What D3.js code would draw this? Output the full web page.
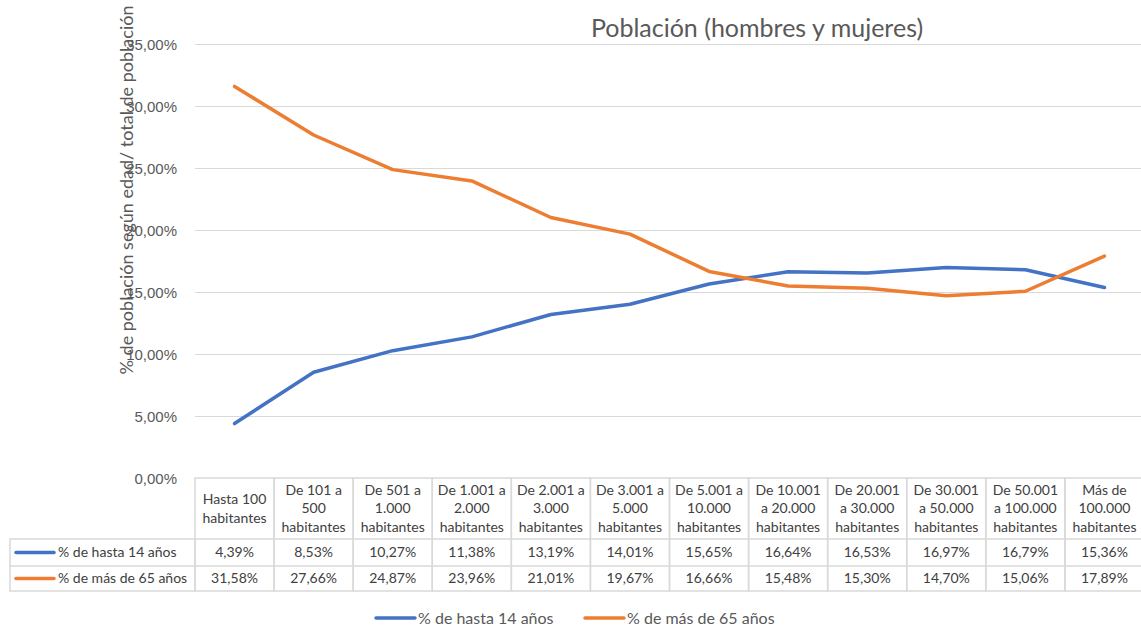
<!DOCTYPE html>
<meta charset="utf-8">
<style>
body { margin: 0; background: #fff; }
svg { font-family: Lato, "Open Sans", sans-serif; }
.grid line { stroke: #d9d9d9; stroke-width: 1; }
.grid path { display: none; }
.axis--y path, .axis--y line { display: none; }
.axis--y text { fill: #595959; font-size: 15px; }
.cell { stroke: #d9d9d9; fill: none; stroke-width: 1.5; }
.tbl { fill: #404040; font-size: 14px; }
</style>
<svg width="1141" height="628"></svg>
<script src="https://d3js.org/d3.v7.min.js"></script>
<script>

var categories = [
  ["Hasta 100", "habitantes"],
  ["De 101 a", "500", "habitantes"],
  ["De 501 a", "1.000", "habitantes"],
  ["De 1.001 a", "2.000", "habitantes"],
  ["De 2.001 a", "3.000", "habitantes"],
  ["De 3.001 a", "5.000", "habitantes"],
  ["De 5.001 a", "10.000", "habitantes"],
  ["De 10.001", "a 20.000", "habitantes"],
  ["De 20.001", "a 30.000", "habitantes"],
  ["De 30.001", "a 50.000", "habitantes"],
  ["De 50.001", "a 100.000", "habitantes"],
  ["Más de", "100.000", "habitantes"]
];

var hasta14 = [4.39, 8.53, 10.27, 11.38, 13.19, 14.01, 15.65, 16.64, 16.53, 16.97, 16.79, 15.36];
var mas65 = [31.58, 27.66, 24.87, 23.96, 21.01, 19.67, 16.66, 15.48, 15.30, 14.70, 15.06, 17.89];

var yTicks = [0, 5, 10, 15, 20, 25, 30, 35];

var seriesNames = ["% de hasta 14 años", "% de más de 65 años"];
var seriesColors = ["#4472c4", "#ed7d31"];

var locale = d3.formatLocale({decimal: ",", thousands: ".", grouping: [3], currency: ["", "€"]});
var fmt = locale.format(".2f");

var svg = d3.select("svg"),
    plotLeft = 195, plotRight = 1144, plotTop = 44, plotBottom = 478,
    rowH = [61, 27, 25];

var x = d3.scaleBand().domain(d3.range(categories.length)).range([plotLeft, plotRight]);
var y = d3.scaleLinear().domain([0, 35]).range([plotBottom, plotTop]);

// gridlines
svg.append("g")
    .attr("class", "grid")
    .attr("transform", "translate(" + plotLeft + ",0)")
    .call(d3.axisLeft(y).tickValues(yTicks.slice(1)).tickSize(-(plotRight - plotLeft)).tickFormat(""));

svg.append("g")
    .attr("class", "axis axis--y")
    .attr("transform", "translate(" + (plotLeft - 12) + ",0)")
    .call(d3.axisLeft(y).tickValues(yTicks).tickSize(0).tickFormat(function(d) { return fmt(d) + "%"; }))
  .selectAll("text")
    .attr("x", -6)
    .attr("dy", "0.35em");

// axis title
svg.append("text")
    .attr("transform", "translate(133,190) rotate(-90)")
    .attr("text-anchor", "middle")
    .attr("fill", "#595959")
    .style("font-size", "18px")
    .text("% de población según edad/ total de población");

// chart title
svg.append("text")
    .attr("x", 757)
    .attr("y", 37)
    .attr("text-anchor", "middle")
    .attr("fill", "#595959")
    .style("font-size", "25px")
    .text("Población (hombres y mujeres)");

// lines
var line = d3.line()
    .x(function(d, i) { return x(i) + x.bandwidth() / 2; })
    .y(function(d) { return y(d); });

[hasta14, mas65].forEach(function(s, k) {
  svg.append("path")
      .datum(s)
      .attr("fill", "none")
      .attr("stroke", seriesColors[k])
      .attr("stroke-width", 3.5)
      .attr("stroke-linejoin", "round")
      .attr("stroke-linecap", "round")
      .attr("d", line);
});

// data table
var t = svg.append("g");
var y0 = plotBottom, y1 = y0 + rowH[0], y2 = y1 + rowH[1], y3 = y2 + rowH[2];

categories.forEach(function(c, i) {
  var cx = x(i);
  t.append("rect").attr("class", "cell")
      .attr("x", cx).attr("y", y0).attr("width", x.bandwidth()).attr("height", y3 - y0);
  t.append("line").attr("class", "cell")
      .attr("x1", cx).attr("x2", cx + x.bandwidth()).attr("y1", y1).attr("y2", y1);
  t.append("line").attr("class", "cell")
      .attr("x1", cx).attr("x2", cx + x.bandwidth()).attr("y1", y2).attr("y2", y2);
  var mid = (y0 + y1) / 2, lh = 18.5;
  c.forEach(function(txt, j) {
    t.append("text").attr("class", "tbl")
        .attr("x", cx + x.bandwidth() / 2)
        .attr("y", mid + (j - (c.length - 1) / 2) * lh)
        .attr("dy", "0.35em")
        .attr("text-anchor", "middle")
        .text(txt);
  });
  [hasta14, mas65].forEach(function(s, k) {
    t.append("text").attr("class", "tbl")
        .attr("x", cx + x.bandwidth() / 2)
        .attr("y", (k == 0 ? (y1 + y2) / 2 : (y2 + y3) / 2))
        .attr("dy", "0.35em")
        .attr("text-anchor", "middle")
        .text(fmt(s[i]) + "%");
  });
});

// series label column
t.append("rect").attr("class", "cell")
    .attr("x", 10).attr("y", y1).attr("width", plotLeft - 10).attr("height", y3 - y1);
t.append("line").attr("class", "cell")
    .attr("x1", 10).attr("x2", plotLeft).attr("y1", y2).attr("y2", y2);

seriesNames.forEach(function(n, k) {
  var cy = k == 0 ? (y1 + y2) / 2 : (y2 + y3) / 2;
  t.append("line")
      .attr("x1", 16).attr("x2", 54).attr("y1", cy).attr("y2", cy)
      .attr("stroke", seriesColors[k]).attr("stroke-width", 3.5).attr("stroke-linecap", "round");
  t.append("text").attr("class", "tbl")
      .attr("x", 58).attr("y", cy).attr("dy", "0.35em")
      .text(n);
});

// legend
var legX = [376, 585];
seriesNames.forEach(function(n, k) {
  var g = svg.append("g").attr("transform", "translate(" + legX[k] + ",618)");
  g.append("line")
      .attr("x1", 0).attr("x2", 39)
      .attr("stroke", seriesColors[k]).attr("stroke-width", 3.5).attr("stroke-linecap", "round");
  g.append("text")
      .attr("x", 42).attr("dy", "0.35em")
      .attr("fill", "#595959")
      .style("font-size", "16px")
      .text(n);
});

</script>
